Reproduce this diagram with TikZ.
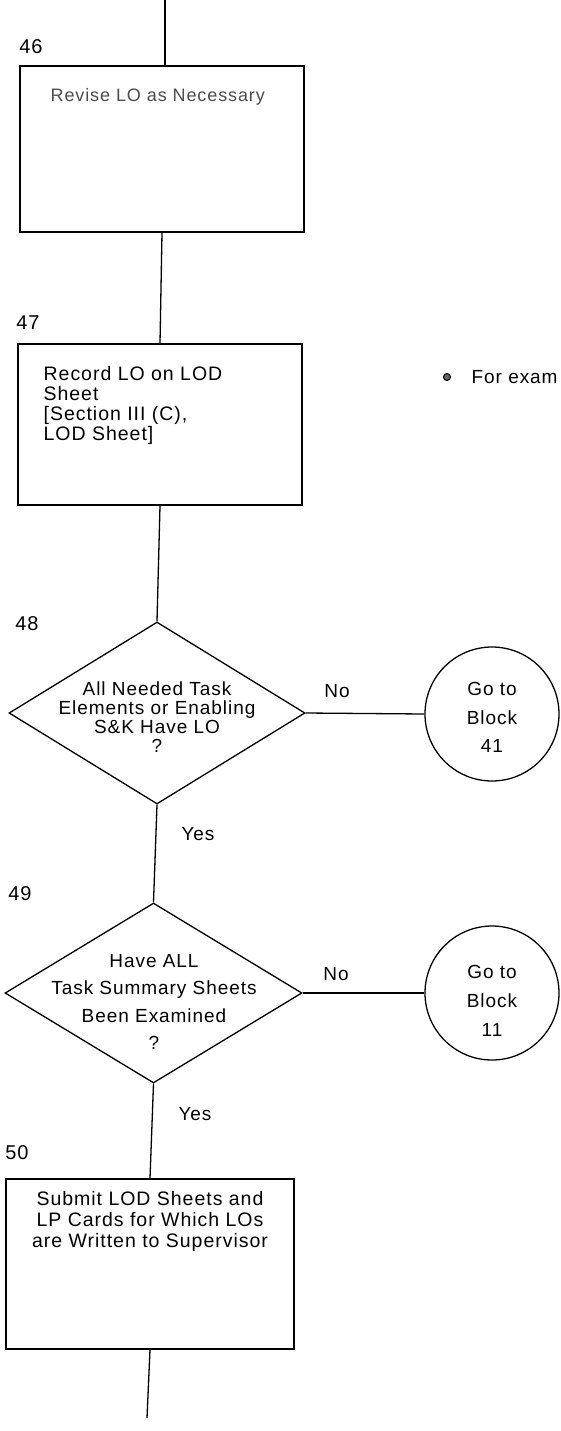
\documentclass[tikz,border=0pt]{standalone}
\usepackage{fontspec}
\setmainfont{Liberation Sans}[LetterSpace=5]
\usetikzlibrary{shapes.geometric}
\begin{document}
\begin{tikzpicture}[x=1pt,y=-1pt, line width=1.3pt,
  box/.style={draw, rectangle, inner sep=0pt},
  dia/.style={draw, diamond, inner sep=0pt},
  conn/.style={draw, circle, inner sep=0pt, minimum size=134pt},
  txt/.style={inner sep=0pt, font=\fontsize{19}{19}\selectfont},
  link/.style={line width=1.3pt}]
\useasboundingbox (0,0) rectangle (560,1431);

% block 46
\node[box, minimum width=284pt, minimum height=166pt] (b46) at (162,149) {};
\node[txt, anchor=west, text=black!70, font=\fontsize{18}{18}\selectfont] (t46) at (50,97) {Revise LO as Necessary};
\node[txt, font=\fontsize{20}{20}\selectfont] (n46) at (31,47) {46};

% block 47
\node[box, minimum width=284pt, minimum height=161pt] (b47) at (160,424.5) {};
\node[txt, anchor=west, align=left, font=\fontsize{19.5}{20}\selectfont] (t47) at (43,405) {Record LO on LOD\\Sheet\\{[}Section III (C),\\LOD Sheet{]}};
\node[txt, font=\fontsize{20}{20}\selectfont] (n47) at (28,323) {47};

% block 48
\node[dia, minimum width=296pt, minimum height=182pt] (d48) at (157,713) {};
\node[txt, align=center, font=\fontsize{19}{19}\selectfont] (t48) at (157,717) {All Needed Task\\Elements or Enabling\\S\&K Have LO\\?};
\node[txt, font=\fontsize{20}{20}\selectfont] (n48) at (27,624) {48};
\node[conn] (c41) at (492,714) {};
\node[txt, align=center, font=\fontsize{19}{28.5}\selectfont] (t41) at (492,717.5) {Go to\\Block\\41};
\node[txt] (no48) at (337,691) {No};
\node[txt] (yes48) at (198,834) {Yes};

% block 49
\node[dia, minimum width=297pt, minimum height=180pt] (d49) at (153.5,993) {};
\node[txt, align=center, font=\fontsize{19}{27.5}\selectfont] (t49) at (154,1002) {Have ALL\\Task Summary Sheets\\Been Examined\\?};
\node[txt, font=\fontsize{20}{20}\selectfont] (n49) at (20,894) {49};
\node[conn] (c11) at (492,993) {};
\node[txt, align=center, font=\fontsize{19}{29}\selectfont] (t11) at (492,1001) {Go to\\Block\\11};
\node[txt] (no49) at (336,974) {No};
\node[txt] (yes49) at (195,1114) {Yes};

% block 50
\node[box, minimum width=288pt, minimum height=170pt] (b50) at (150,1264) {};
\node[txt, align=center, font=\fontsize{19.5}{21}\selectfont] (t50) at (150,1221) {Submit LOD Sheets and\\LP Cards for Which LOs\\are Written to Supervisor};
\node[txt, font=\fontsize{20}{20}\selectfont] (n50) at (17,1153) {50};

% side note
\node[circle, draw, line width=1.1pt, inner sep=0pt, minimum size=7pt, fill=black!60] (bul) at (447,377) {};
\node[txt, anchor=west] (fex) at (471,377) {For exam};

% connectors
\coordinate (top) at (165,0);
\coordinate (bot) at (147,1418);
\draw[link] (top) -- (top |- b46.north);
\draw[link] (b46.south) -- (b47.north);
\draw[link] (b47.south) -- (d48.north);
\draw[link] (d48.south) -- (d49.north);
\draw[link] (d49.south) -- (b50.north);
\draw[link] (b50.south) -- (bot);
\draw[link] (d48.east) -- (c41.west);
\draw[link] (d49.east) -- (c11.west);
\end{tikzpicture}
\end{document}
